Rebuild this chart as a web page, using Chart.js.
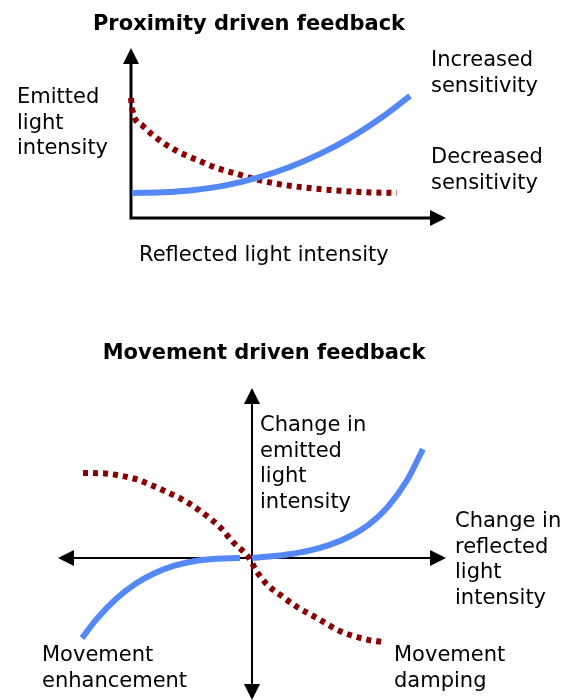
<!DOCTYPE html>
<html>
<head>
<meta charset="utf-8">
<script src="https://cdn.jsdelivr.net/npm/chart.js@4/dist/chart.umd.min.js"></script>
<style>
  html, body { margin: 0; padding: 0; background: #ffffff; }
  #page { position: relative; width: 568px; height: 700px; overflow: hidden; font-family: "DejaVu Sans", Verdana, sans-serif; color: #000; }
  canvas { position: absolute; left: 0; }
  .lbl { position: absolute; font-size: 21px; line-height: 25.5px; white-space: nowrap; }
  .ttl { position: absolute; font-size: 21px; line-height: 25.5px; font-weight: bold; white-space: nowrap; text-align: center; width: 568px; left: 0; }
</style>
</head>
<body>
<div id="page">
  <canvas id="c1" width="568" height="270" style="top:0px"></canvas>
  <canvas id="c2" width="568" height="400" style="top:300px"></canvas>

  <div class="ttl" style="top:11px; left:-35px;">Proximity driven feedback</div>
  <div class="lbl" style="left:17px; top:84px;">Emitted<br>light<br>intensity</div>
  <div class="lbl" style="left:431px; top:47px;">Increased<br>sensitivity</div>
  <div class="lbl" style="left:431px; top:144px;">Decreased<br>sensitivity</div>
  <div class="lbl" style="left:139px; top:242px;">Reflected light intensity</div>

  <div class="ttl" style="top:340px; left:-20px;">Movement driven feedback</div>
  <div class="lbl" style="left:260px; top:412px;">Change in<br>emitted<br>light<br>intensity</div>
  <div class="lbl" style="left:455px; top:508px;">Change in<br>reflected<br>light<br>intensity</div>
  <div class="lbl" style="left:42px; top:642px;">Movement<br>enhancement</div>
  <div class="lbl" style="left:394px; top:642px;">Movement<br>damping</div>
</div>
<script>
// ---- Data ----
// Proximity driven feedback
const proximityIncreasedX = [0.03, 1, 2, 3, 4, 5, 6, 7, 8, 8.86];
const proximityIncreasedY = [1.47, 1.51, 1.65, 1.92, 2.36, 2.97, 3.77, 4.76, 5.97, 7.18];
const proximityDecreasedX = [0, 0.03, 0.38, 0.89, 1.46, 2.10, 2.73, 3.37, 3.94, 4.67, 5.37, 6.32, 7.27, 8.44];
const proximityDecreasedY = [7.06, 6.47, 5.41, 4.59, 3.94, 3.41, 2.94, 2.59, 2.29, 2.0, 1.82, 1.65, 1.53, 1.47];

// Movement driven feedback (null = break in the line)
const movementEnhancementX = [-8.76, -8, -7, -6, -5, -4, -3, -2, -1, -0.62, -0.3, 0, 1, 2, 3, 4, 5, 6, 7, 8, 8.81];
const movementEnhancementY = [-4.71, -3.58, -2.40, -1.51, -0.88, -0.45, -0.19, -0.06, -0.01, 0, null, 0, 0.10, 0.24, 0.45, 0.77, 1.25, 1.95, 3.01, 4.59, 6.41];
const movementDampingX = [-8.71, -7.68, -6.96, -5.93, -5.26, -4.38, -3.35, -2.53, -1.65, -0.98, -0.15, 0.26, 0.77, 1.60, 2.32, 3.35, 4.54, 5.93, 6.70];
const movementDampingY = [5.0, 4.98, 4.88, 4.62, 4.32, 3.88, 3.29, 2.65, 1.82, 0.94, 0, -0.82, -1.55, -2.29, -2.88, -3.53, -4.30, -4.80, -4.94];

// Axis ranges
const proximityRangeX = [0, 10];
const proximityRangeY = [0, 10];
const movementRangeX = [-10, 10];
const movementRangeY = [-8.35, 10];

// ---- Helpers ----
function toPoints(xs, ys) { return xs.map((x, i) => ({ x: x, y: ys[i] })); }

const BLUE = '#5588f7';
const RED = '#880000';

function arrowHead(ctx, tipX, tipY, dx, dy, len, half) {
  const bx = tipX - dx * len, by = tipY - dy * len;
  ctx.beginPath();
  ctx.moveTo(tipX, tipY);
  ctx.lineTo(bx - dy * half, by + dx * half);
  ctx.lineTo(bx + dy * half, by - dx * half);
  ctx.closePath();
  ctx.fill();
}

const arrowAxes = {
  id: 'arrowAxes',
  beforeDatasetsDraw(chart, args, opts) {
    const ctx = chart.ctx;
    const xs = chart.scales.x, ys = chart.scales.y;
    const x0 = xs.getPixelForValue(0), y0 = ys.getPixelForValue(0);
    const left = xs.getPixelForValue(xs.min), right = xs.getPixelForValue(xs.max);
    const top = ys.getPixelForValue(ys.max), bottom = ys.getPixelForValue(ys.min);
    const L = 16, H = 8;
    ctx.save();
    ctx.strokeStyle = '#000';
    ctx.fillStyle = '#000';
    ctx.lineWidth = opts.lineWidth || 2;
    ctx.lineCap = 'butt';
    if (opts.full) {
      ctx.beginPath();
      ctx.moveTo(left + L - 1, y0); ctx.lineTo(right - L + 1, y0);
      ctx.moveTo(x0, top + L - 1); ctx.lineTo(x0, bottom - L + 1);
      ctx.stroke();
      arrowHead(ctx, right, y0, 1, 0, L, H);
      arrowHead(ctx, left, y0, -1, 0, L, H);
      arrowHead(ctx, x0, top, 0, -1, L, H);
      arrowHead(ctx, x0, bottom, 0, 1, L, H);
    } else {
      ctx.beginPath();
      ctx.moveTo(x0, y0 + 1.5); ctx.lineTo(x0, top + L - 1);
      ctx.moveTo(x0 - 1.5, y0); ctx.lineTo(right - L + 1, y0);
      ctx.stroke();
      arrowHead(ctx, right, y0, 1, 0, L, H);
      arrowHead(ctx, x0, top, 0, -1, L, H);
    }
    ctx.restore();
  }
};

function makeChart(id, datasets, rangeX, rangeY, padding, full, axisWidth) {
  return new Chart(document.getElementById(id), {
    type: 'line',
    data: { datasets: datasets },
    options: {
      responsive: false,
      animation: false,
      devicePixelRatio: 1,
      layout: { padding: padding },
      plugins: {
        legend: { display: false },
        tooltip: { enabled: false },
        title: { display: false },
        arrowAxes: { full: full, lineWidth: axisWidth }
      },
      elements: { point: { radius: 0, hoverRadius: 0 } },
      scales: {
        x: { type: 'linear', min: rangeX[0], max: rangeX[1], display: false },
        y: { type: 'linear', min: rangeY[0], max: rangeY[1], display: false }
      }
    },
    plugins: [arrowAxes]
  });
}

function blueSet(label, pts) {
  return { label: label, data: pts, borderColor: BLUE, borderWidth: 6, cubicInterpolationMode: 'monotone', spanGaps: false, clip: false, fill: false, borderCapStyle: 'butt' };
}
function redSet(label, pts) {
  return { label: label, data: pts, borderColor: RED, borderWidth: 6, borderDash: [5, 5], cubicInterpolationMode: 'monotone', clip: false, fill: false, borderCapStyle: 'butt' };
}

makeChart('c1', [
  blueSet('Increased sensitivity', toPoints(proximityIncreasedX, proximityIncreasedY)),
  redSet('Decreased sensitivity', toPoints(proximityDecreasedX, proximityDecreasedY))
], proximityRangeX, proximityRangeY, { left: 131, right: 122, top: 48, bottom: 52 }, false, 3);

makeChart('c2', [
  blueSet('Movement enhancement', toPoints(movementEnhancementX, movementEnhancementY)),
  redSet('Movement damping', toPoints(movementDampingX, movementDampingY))
], movementRangeX, movementRangeY, { left: 58, right: 122, top: 88, bottom: 0 }, true, 2);
</script>
</body>
</html>
